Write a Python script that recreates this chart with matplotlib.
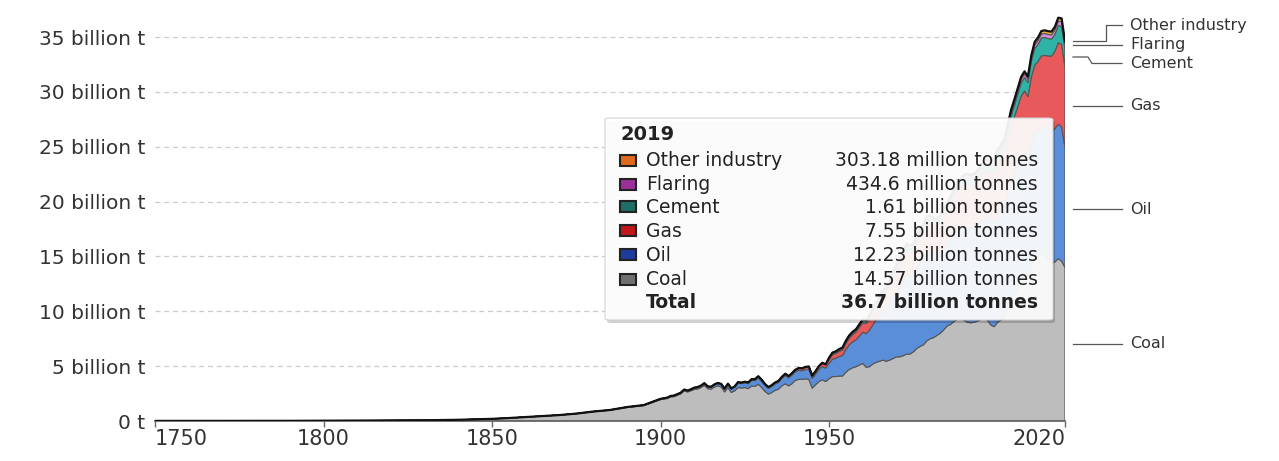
import matplotlib.pyplot as plt
from matplotlib.patches import FancyBboxPatch, Rectangle
from matplotlib.lines import Line2D

plt.rcParams['font.family'] = ['DejaVu Sans']

# years: 1750-1850 by 10, 1855-1895 by 5, then yearly
years = [1750, 1760, 1770, 1780, 1790, 1800, 1810, 1820, 1830, 1840, 1850,
         1855, 1860, 1865, 1870, 1875, 1880, 1885, 1890, 1895] + list(range(1900, 2021))

# billion tonnes CO2
coal = [0.009, 0.010, 0.011, 0.013, 0.016, 0.028, 0.036, 0.045, 0.065, 0.11, 0.197,
        0.27, 0.36, 0.45, 0.54, 0.67, 0.85, 0.98, 1.23, 1.40,
        1.95, 2.00, 2.05, 2.20, 2.22, 2.35, 2.48, 2.75, 2.65, 2.75,
        2.88, 2.92, 3.05, 3.25, 2.95, 2.90, 3.10, 3.20, 3.10, 2.65,
        3.05, 2.60, 2.75, 3.05, 3.00, 3.05, 2.95, 3.20, 3.15, 3.35,
        3.05, 2.70, 2.45, 2.60, 2.80, 2.90, 3.20, 3.40, 3.20, 3.40,
        3.70, 3.80, 3.80, 3.85, 3.80, 3.00, 3.30, 3.60, 3.75, 3.60,
        3.85, 4.05, 4.05, 4.10, 4.10, 4.45, 4.70, 4.85, 4.95, 5.10,
        5.25, 4.90, 4.95, 5.20, 5.35, 5.45, 5.55, 5.45, 5.55, 5.70,
        5.85, 5.85, 5.95, 6.10, 6.10, 6.30, 6.60, 6.80, 6.95, 7.30,
        7.50, 7.60, 7.80, 8.00, 8.30, 8.65, 8.80, 9.05, 9.25, 9.30,
        9.20, 9.00, 8.95, 9.00, 9.10, 9.25, 9.35, 9.20, 8.75, 8.60,
        9.00, 9.20, 9.50, 10.30, 11.00, 11.60, 12.30, 12.90, 13.30, 13.20,
        14.10, 14.90, 15.00, 15.30, 15.20, 14.80, 14.40, 14.50, 14.80, 14.57,
        14.00]

oil = [0, 0, 0, 0, 0, 0, 0, 0, 0, 0, 0,
       0, 0, 0, 0.002, 0.004, 0.01, 0.02, 0.03, 0.04,
       0.06, 0.06, 0.07, 0.07, 0.08, 0.08, 0.08, 0.10, 0.10, 0.11,
       0.12, 0.13, 0.14, 0.15, 0.16, 0.17, 0.19, 0.21, 0.22, 0.24,
       0.30, 0.31, 0.34, 0.40, 0.41, 0.43, 0.45, 0.50, 0.53, 0.58,
       0.56, 0.54, 0.52, 0.55, 0.58, 0.62, 0.67, 0.74, 0.73, 0.78,
       0.78, 0.82, 0.78, 0.84, 0.92, 0.88, 0.98, 1.10, 1.22, 1.22,
       1.40, 1.58, 1.67, 1.77, 1.88, 2.08, 2.26, 2.36, 2.45, 2.64,
       2.85, 3.06, 3.33, 3.58, 3.87, 4.15, 4.48, 4.82, 5.22, 5.70,
       5.90, 6.25, 6.70, 7.20, 7.00, 6.90, 7.35, 7.60, 7.80, 8.00,
       7.85, 7.55, 7.35, 7.30, 7.45, 7.50, 7.80, 7.95, 8.25, 8.45,
       8.60, 8.70, 8.65, 8.60, 8.75, 8.90, 9.10, 9.35, 9.45, 9.60,
       9.85, 9.95, 10.00, 10.30, 10.70, 10.85, 10.95, 11.10, 11.00, 10.75,
       11.20, 11.30, 11.40, 11.50, 11.60, 11.80, 12.00, 12.15, 12.25, 12.23,
       10.95]

gas = [0, 0, 0, 0, 0, 0, 0, 0, 0, 0, 0,
       0, 0, 0, 0, 0, 0, 0.005, 0.01, 0.01,
       0.01, 0.01, 0.01, 0.01, 0.02, 0.02, 0.02, 0.02, 0.02, 0.03,
       0.03, 0.03, 0.03, 0.04, 0.04, 0.04, 0.04, 0.05, 0.05, 0.05,
       0.05, 0.05, 0.06, 0.07, 0.07, 0.08, 0.09, 0.09, 0.10, 0.12,
       0.12, 0.11, 0.10, 0.10, 0.11, 0.12, 0.13, 0.14, 0.14, 0.15,
       0.16, 0.18, 0.19, 0.21, 0.23, 0.23, 0.24, 0.27, 0.29, 0.30,
       0.35, 0.41, 0.44, 0.47, 0.50, 0.55, 0.60, 0.66, 0.70, 0.78,
       0.85, 0.92, 1.00, 1.08, 1.18, 1.26, 1.36, 1.46, 1.58, 1.74,
       1.90, 2.02, 2.12, 2.20, 2.23, 2.23, 2.35, 2.40, 2.50, 2.65,
       2.70, 2.75, 2.75, 2.80, 3.00, 3.10, 3.15, 3.32, 3.45, 3.60,
       3.75, 3.85, 3.88, 3.95, 3.95, 4.10, 4.30, 4.25, 4.35, 4.45,
       4.65, 4.72, 4.85, 5.00, 5.15, 5.28, 5.42, 5.62, 5.78, 5.62,
       6.05, 6.22, 6.38, 6.48, 6.52, 6.68, 6.85, 7.05, 7.42, 7.55,
       7.30]

cement = [0] * 20 + [
    0, 0, 0, 0, 0, 0, 0, 0, 0, 0,
    0.01, 0.01, 0.01, 0.01, 0.01, 0.01, 0.01, 0.01, 0.01, 0.01,
    0.01, 0.01, 0.01, 0.02, 0.02, 0.02, 0.02, 0.02, 0.03, 0.03,
    0.03, 0.02, 0.02, 0.02, 0.02, 0.02, 0.03, 0.03, 0.03, 0.03,
    0.03, 0.03, 0.03, 0.03, 0.02, 0.02, 0.03, 0.04, 0.04, 0.05,
    0.08, 0.09, 0.09, 0.10, 0.11, 0.12, 0.12, 0.13, 0.14, 0.16,
    0.17, 0.18, 0.19, 0.20, 0.22, 0.22, 0.24, 0.25, 0.27, 0.28,
    0.30, 0.31, 0.33, 0.35, 0.35, 0.35, 0.37, 0.39, 0.41, 0.42,
    0.42, 0.42, 0.42, 0.44, 0.45, 0.45, 0.47, 0.49, 0.51, 0.52,
    0.57, 0.58, 0.61, 0.63, 0.65, 0.67, 0.68, 0.69, 0.70, 0.72,
    0.74, 0.77, 0.82, 0.89, 0.96, 1.04, 1.13, 1.20, 1.22, 1.28,
    1.40, 1.52, 1.55, 1.63, 1.64, 1.58, 1.57, 1.54, 1.57, 1.61,
    1.64]

flaring = [0] * 70 + [
    0.09, 0.10, 0.10, 0.11, 0.11, 0.12, 0.13, 0.13, 0.13, 0.14,
    0.15, 0.16, 0.17, 0.18, 0.19, 0.20, 0.22, 0.23, 0.24, 0.26,
    0.28, 0.30, 0.31, 0.33, 0.32, 0.30, 0.31, 0.30, 0.30, 0.29,
    0.24, 0.21, 0.19, 0.18, 0.17, 0.17, 0.17, 0.18, 0.18, 0.19,
    0.22, 0.29, 0.24, 0.24, 0.25, 0.26, 0.27, 0.28, 0.29, 0.29,
    0.30, 0.30, 0.31, 0.32, 0.33, 0.34, 0.33, 0.32, 0.33, 0.31,
    0.31, 0.34, 0.36, 0.36, 0.37, 0.38, 0.38, 0.40, 0.42, 0.43,
    0.41]

other = [0] * 110 + [
    0.10, 0.11, 0.11, 0.12, 0.12, 0.13, 0.14, 0.15, 0.15, 0.16,
    0.17, 0.18, 0.19, 0.20, 0.21, 0.22, 0.23, 0.24, 0.24, 0.24,
    0.26, 0.27, 0.28, 0.28, 0.28, 0.29, 0.29, 0.29, 0.30, 0.30,
    0.29]

series_names = ['Coal', 'Oil', 'Gas', 'Cement', 'Flaring', 'Other industry']
fill_colors = ['#bdbdbd', '#5b8ed8', '#e8595b', '#2fb3a6', '#d68ad8', '#f0b43a']
edge_colors = ['#555555', '#213f8c', '#8c1c1e', '#0e5c55', '#7a2c7a', '#8a5a00']

# tooltip values for 2019
tip_names = ['Other industry', 'Flaring', 'Cement', 'Gas', 'Oil', 'Coal']
tip_values = ['303.18 million tonnes', '434.6 million tonnes', '1.61 billion tonnes',
              '7.55 billion tonnes', '12.23 billion tonnes', '14.57 billion tonnes']
tip_swatch = ['#e06a1c', '#9a2f9a', '#1e6e66', '#c0161c', '#1f3c9c', '#707070']
tip_total = '36.7 billion tonnes'

y_ticks = [0, 5, 10, 15, 20, 25, 30, 35]
y_ticklabels = ['0 t', '5 billion t', '10 billion t', '15 billion t', '20 billion t',
                '25 billion t', '30 billion t', '35 billion t']
x_ticks = [1750, 1800, 1850, 1900, 1950, 2020]

W, H = 1279, 461
fig = plt.figure(figsize=(W / 100, H / 100), dpi=100)
px = 10.971  # pixels per billion t
ymax = 38
ax = fig.add_axes([155 / W, 1 - 421 / H, 910 / W, ymax * px / H])

ax.stackplot(years, coal, oil, gas, cement, flaring, other,
             colors=fill_colors, edgecolor=edge_colors, linewidth=0.8, zorder=2)
total = [a + b + c + d + e + f for a, b, c, d, e, f in zip(coal, oil, gas, cement, flaring, other)]
ax.plot(years, total, color='#111111', lw=1.6, zorder=3)

ax.set_xlim(1750, 2020)
ax.set_ylim(0, ymax)
ax.set_yticks(y_ticks)
ax.set_yticklabels(y_ticklabels)
ax.set_xticks(x_ticks)
ax.set_xticklabels([str(x) for x in x_ticks])
xl = ax.get_xticklabels()
xl[0].set_ha('left')
xl[-1].set_ha('right')

for s in ['top', 'right', 'left']:
    ax.spines[s].set_visible(False)
ax.spines['bottom'].set_color('#666666')
ax.spines['bottom'].set_linewidth(1.3)
ax.tick_params(axis='y', length=0, pad=7, labelsize=14.5, labelcolor='#333333')
ax.tick_params(axis='x', length=4, width=1, color='#666666', pad=2, labelsize=15, labelcolor='#333333')
ax.set_axisbelow(True)
ax.yaxis.grid(True, linestyle=(0, (4, 3)), color='#cccccc', lw=0.9)


def fx(x):
    return x / W


def fy(y):
    return 1 - y / H


# right-hand labels
line_kw = dict(color='#555555', lw=0.9, transform=fig.transFigure)
label_paths = [
    ('Other industry', 25.5, [(1073, 41.5), (1106, 41.5), (1106, 25.5), (1122, 25.5)]),
    ('Flaring', 44.5, [(1073, 44.5), (1122, 44.5)]),
    ('Cement', 63.5, [(1073, 57), (1088, 57), (1092, 63.5), (1122, 63.5)]),
    ('Gas', 106, [(1073, 106), (1122, 106)]),
    ('Oil', 209, [(1073, 209), (1122, 209)]),
    ('Coal', 344, [(1073, 344), (1122, 344)]),
]
for name, ty, pts in label_paths:
    fig.add_artist(Line2D([fx(p[0]) for p in pts], [fy(p[1]) for p in pts], **line_kw))
    fig.text(fx(1130), fy(ty), name, fontsize=11.5, color='#333333', va='center', ha='left')

# tooltip
bx0, by0, bx1, by1 = 605, 118, 1053, 320
shadow = FancyBboxPatch((fx(bx0 + 2), fy(by1 + 3)), fx(bx1 - bx0), (by1 - by0) / H,
                        boxstyle='round,pad=0,rounding_size=0.004', transform=fig.transFigure,
                        facecolor='#000000', edgecolor='none', alpha=0.18, zorder=5)
box = FancyBboxPatch((fx(bx0), fy(by1)), fx(bx1 - bx0), (by1 - by0) / H,
                     boxstyle='round,pad=0,rounding_size=0.004', transform=fig.transFigure,
                     facecolor='white', edgecolor='#d0d0d0', lw=0.8, alpha=0.93, zorder=6)
fig.add_artist(shadow)
fig.add_artist(box)
fig.text(fx(620), fy(135), '2019', fontsize=14, fontweight='bold', color='#222222',
         va='center', zorder=7)
row_y = [160, 184, 207, 231, 255, 279]
for name, val, col, ry in zip(tip_names, tip_values, tip_swatch, row_y):
    fig.add_artist(Rectangle((fx(620), fy(ry + 5.5)), fx(16), 11 / H, transform=fig.transFigure,
                             facecolor=col, edgecolor='#222222', lw=1.5, zorder=7))
    fig.text(fx(646), fy(ry), name, fontsize=13.5, color='#222222', va='center', zorder=7)
    fig.text(fx(1038), fy(ry), val, fontsize=13.5, color='#222222', va='center', ha='right', zorder=7)
fig.text(fx(646), fy(302), 'Total', fontsize=13.5, fontweight='bold', color='#222222', va='center', zorder=7)
fig.text(fx(1038), fy(302), tip_total, fontsize=13.5, fontweight='bold', color='#222222',
         va='center', ha='right', zorder=7)

fig.savefig('out.png', dpi=100)
